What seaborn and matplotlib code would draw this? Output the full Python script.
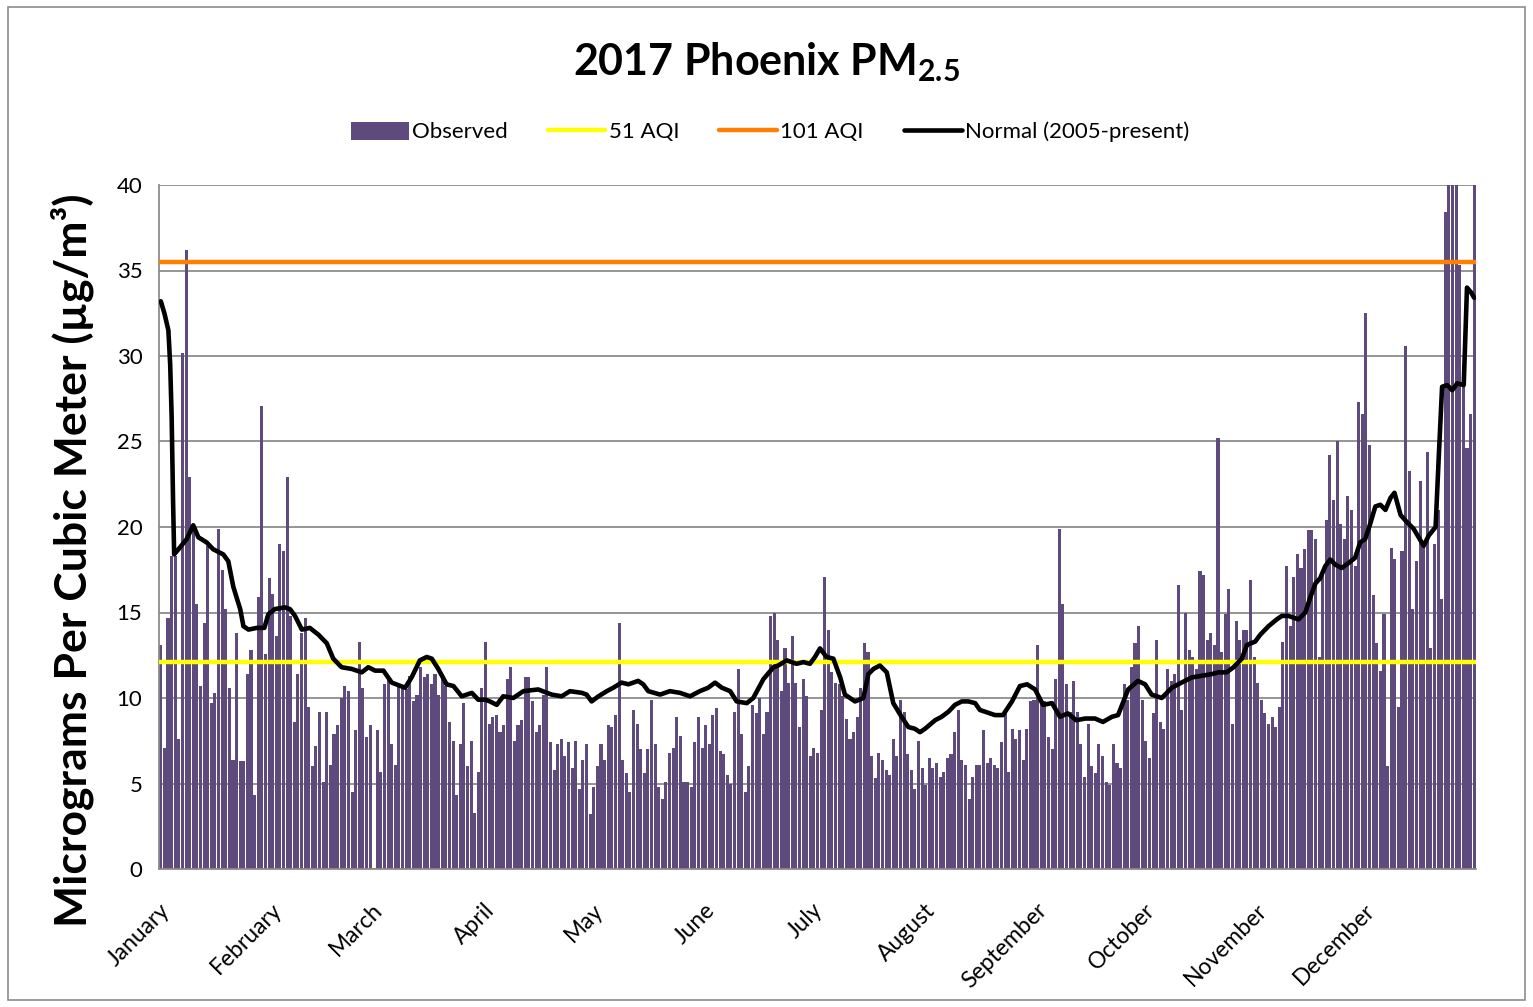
import matplotlib
matplotlib.use("Agg")
import numpy as np
import pandas as pd
import matplotlib.pyplot as plt
import seaborn as sns
from matplotlib.patches import Patch, Rectangle
from matplotlib.lines import Line2D

# Daily observed PM2.5 (ug/m3), one list per month
jan = [13.1, 7.1, 14.7, 18.3, 18.3, 7.6, 30.2, 36.2, 22.9, 19.8, 15.5, 10.7, 14.4, 18.9, 9.7, 10.3,
       19.9, 17.5, 15.2, 10.6, 6.4, 13.8, 6.3, 6.3, 11.4, 12.8, 4.3, 15.9, 27.1, 12.6, 17.0]
feb = [16.1, 13.6, 19.0, 18.6, 22.9, 14.8, 8.6, 11.4, 13.8, 14.7, 9.5, 6.0, 7.2, 9.2, 5.1, 9.2,
       6.1, 7.9, 8.4, 10.0, 10.7, 10.4, 4.5, 8.1, 13.3, 10.6, 7.7, 8.4]
mar = [0.0, 8.1, 5.7, 10.8, 11.1, 7.3, 6.1, 10.7, 10.7, 10.5, 11.3, 9.8, 10.2, 11.8, 11.2, 11.4,
       10.8, 11.4, 10.2, 11.4, 10.7, 8.6, 7.5, 4.3, 7.3, 9.7, 6.0, 7.5, 3.3, 5.7, 10.6]
apr = [13.3, 8.5, 8.9, 9.0, 8.0, 8.4, 11.1, 11.8, 7.5, 8.4, 8.7, 11.2, 11.2, 9.8, 8.0, 8.4,
       10.2, 11.8, 7.4, 5.8, 7.3, 7.6, 6.6, 7.4, 5.9, 7.5, 4.7, 6.4, 7.3, 3.2]
may = [4.8, 6.0, 7.3, 6.4, 8.4, 8.3, 9.0, 14.4, 6.4, 5.6, 4.5, 9.3, 8.5, 7.0, 5.6, 7.0,
       9.9, 7.3, 4.8, 4.1, 5.1, 6.8, 7.1, 8.9, 7.8, 5.1, 5.1, 4.8, 7.4, 8.9, 7.1]
jun = [8.4, 7.3, 9.0, 9.4, 6.9, 6.7, 5.5, 5.0, 9.2, 11.7, 7.9, 4.5, 6.0, 9.6, 9.1, 10.0,
       7.9, 9.2, 14.8, 15.0, 13.4, 10.4, 12.9, 10.9, 13.6, 10.9, 8.3, 11.1, 10.1, 6.6]
jul = [7.1, 6.8, 9.3, 17.1, 14.0, 11.5, 10.9, 10.8, 10.1, 8.8, 7.6, 8.0, 8.9, 10.6, 13.2, 12.7,
       6.6, 5.3, 6.8, 6.4, 5.8, 5.5, 7.6, 6.6, 9.9, 9.2, 6.7, 5.8, 4.7, 7.5, 5.9]
aug = [4.9, 6.5, 5.9, 6.2, 5.4, 5.7, 6.5, 6.7, 8.0, 9.3, 6.4, 6.1, 4.1, 5.4, 6.1, 6.1,
       8.1, 6.2, 6.5, 6.1, 5.9, 7.4, 9.3, 5.7, 8.2, 7.6, 8.1, 6.4, 8.2, 9.8, 9.9]
sep = [13.1, 9.9, 9.8, 7.7, 7.0, 11.1, 19.9, 15.5, 10.8, 9.2, 11.0, 9.2, 7.3, 5.4, 8.5, 6.0,
       5.6, 7.3, 6.6, 5.1, 4.9, 7.3, 6.2, 5.9, 10.8, 9.9, 11.8, 13.2, 14.2, 9.9]
oct_ = [7.5, 6.5, 9.1, 13.4, 8.6, 8.2, 11.7, 11.0, 11.4, 16.6, 9.3, 15.0, 12.8, 12.4, 11.7, 17.4,
        17.2, 13.4, 13.8, 13.1, 25.2, 12.7, 14.9, 16.4, 8.5, 14.5, 13.4, 14.0, 14.0, 16.9, 12.4]
nov = [10.9, 9.9, 9.1, 8.5, 8.9, 8.3, 9.5, 13.3, 17.7, 14.2, 17.1, 18.4, 17.6, 18.7, 19.8, 19.8,
       19.3, 12.4, 17.5, 20.4, 24.2, 21.6, 25.0, 20.2, 19.3, 21.8, 21.0, 17.7, 27.3, 26.6]
dec = [32.5, 24.8, 16.0, 13.2, 11.6, 14.9, 6.0, 18.8, 18.1, 9.5, 18.6, 30.6, 23.3, 15.2, 18.0, 22.7,
       19.0, 24.4, 12.9, 19.0, 21.0, 15.8, 38.4, 41.5, 43.0, 42.0, 35.3, 28.3, 24.6, 26.6, 44.0]

# Normal (2005-present) curve, vertices: day of year, value
normal_day = [1, 2, 3.1, 3.6, 4.0, 4.4, 4.7, 5.9, 8.2, 10.0, 11.4, 13.7, 15.5, 18.3, 19.7, 21.1,
              23.0, 23.9, 25.3, 27.6, 29.7, 30.8, 32.6, 35.4, 36.8, 38.2, 40.1, 42.3, 44.7, 47.0,
              48.8, 51.1, 53.9, 56.7, 58.5, 60.4, 62.7, 65.0, 68.7, 70.5, 72.8, 74.7, 76.1, 77.9,
              80.2, 82.1, 84.4, 85.8, 87.2, 89.0, 91.0, 92.2, 94.1, 95.9, 98.7, 101.5, 105.6,
              109.3, 112.1, 114.4, 117.7, 119.0, 120.4, 122.3, 124.6, 126.4, 128.7, 130.6, 133.3,
              134.7, 136.1, 139.4, 142.1, 144.9, 147.7, 150.4, 152.7, 154.6, 156.5, 158.8, 160.6,
              163.4, 165.2, 168.0, 170.8, 172.1, 174.5, 177.2, 179.1, 180.9, 182.3, 183.7, 185.5,
              187.4, 189.3, 190.6, 193.4, 195.7, 197.1, 198.5, 200.3, 202.2, 204.0, 206.3, 208.2,
              210.0, 211.4, 212.8, 215.6, 217.4, 219.3, 221.1, 223.0, 224.8, 226.7, 228.0, 229.4,
              232.2, 234.4, 236.9, 239.1, 241.1, 243.3, 245.5, 248.0, 250.2, 252.4, 254.7, 257.2,
              259.9, 262.1, 264.6, 266.3, 269.1, 271.8, 273.8, 275.6, 278.4, 281.2, 283.9, 286.7,
              289.5, 292.3, 294.1, 296.4, 298.3, 300.6, 302.0, 304.3, 305.7, 308.0, 310.3, 311.7,
              313.5, 314.9, 316.3, 318.2, 319.6, 321.0, 322.3, 323.7, 325.1, 326.5, 328.3, 330.2,
              332.0, 333.4, 334.8, 336.2, 337.6, 339.0, 340.4, 341.8, 342.9, 344.6, 346.3, 348.2,
              349.6, 351.0, 352.4, 354.3, 355.2, 356.1, 357.5, 358.9, 360.3, 362.1, 363.0, 364.2, 365.0]
normal_val = [33.2, 32.5, 31.5, 29.5, 26.5, 21.5, 18.4, 18.7, 19.3, 20.1, 19.4, 19.1, 18.7, 18.4, 18.0, 16.5,
              15.2, 14.2, 14.0, 14.1, 14.1, 14.9, 15.2, 15.3, 15.2, 14.8, 14.0, 14.1, 13.7, 13.2,
              12.3, 11.8, 11.7, 11.5, 11.8, 11.6, 11.6, 10.9, 10.6, 11.2, 12.2, 12.4, 12.3, 11.7,
              10.8, 10.7, 10.1, 10.2, 10.3, 9.9, 9.9, 9.8, 9.6, 10.1, 10.0, 10.4, 10.5,
              10.2, 10.1, 10.4, 10.3, 10.2, 9.8, 10.1, 10.4, 10.6, 10.9, 10.8, 11.0,
              10.8, 10.4, 10.2, 10.4, 10.3, 10.1, 10.4, 10.6, 10.9, 10.6, 10.4, 9.8,
              9.7, 10.0, 11.1, 11.8, 11.9, 12.2, 12.0, 12.1, 12.0, 12.4, 12.9, 12.4,
              12.3, 11.2, 10.2, 9.8, 10.0, 11.4, 11.7, 11.9, 11.5, 9.7, 8.9, 8.3,
              8.2, 8.0, 8.2, 8.7, 8.9, 9.2, 9.6, 9.8, 9.8, 9.7, 9.3, 9.2,
              9.0, 9.0, 9.8, 10.7, 10.8, 10.5, 9.6, 9.7, 8.9, 9.1, 8.7, 8.8,
              8.8, 8.6, 8.9, 9.0, 10.5, 11.0, 10.8, 10.2, 10.0, 10.6, 10.9, 11.2,
              11.3, 11.4, 11.5, 11.5, 11.8, 12.3, 13.1, 13.3, 13.7, 14.2, 14.6, 14.8,
              14.8, 14.7, 14.6, 15.0, 15.9, 16.7, 17.0, 17.7, 18.1, 17.8, 17.6, 17.9,
              18.2, 19.1, 19.3, 20.2, 21.2, 21.3, 21.0, 21.7, 22.0, 20.7, 20.3, 19.9,
              19.4, 18.9, 19.5, 20.0, 24.2, 28.2, 28.3, 28.0, 28.4, 28.3, 34.0, 33.7, 33.4]

aqi_51 = 12.1
aqi_101 = 35.5

months = ["January", "February", "March", "April", "May", "June", "July",
          "August", "September", "October", "November", "December"]
month_len = [31, 28, 31, 30, 31, 30, 31, 31, 30, 31, 30, 31]

BAR = "#5F4A7E"
GRID = "#8C8C8C"

observed = jan + feb + mar + apr + may + jun + jul + aug + sep + oct_ + nov + dec
df = pd.DataFrame({"day": np.arange(1, len(observed) + 1), "pm": observed})

sns.set_theme(style="white")
plt.rcParams["font.family"] = ["Lato", "DejaVu Sans"]
plt.rcParams["mathtext.fontset"] = "custom"
plt.rcParams["mathtext.rm"] = "Lato"
plt.rcParams["mathtext.bf"] = "Lato:bold"
for key in ["text.color", "axes.labelcolor", "xtick.color", "ytick.color"]:
    plt.rcParams[key] = "black"

fig = plt.figure(figsize=(15.33, 10.07), dpi=100)
ax = fig.add_axes([159 / 1533, 1 - 869 / 1007, (1476 - 159) / 1533, (869 - 185) / 1007])

sns.barplot(data=df, x="day", y="pm", native_scale=True, color=BAR, saturation=1,
            width=0.85, errorbar=None, linewidth=0, edgecolor="none", ax=ax, zorder=2)
ax.axhline(aqi_51, color="#FFFF00", lw=3.2, zorder=3)
ax.axhline(aqi_101, color="#FF7F00", lw=3.2, zorder=3)
sns.lineplot(x=normal_day, y=normal_val, color="black", lw=3.3, sort=False, ax=ax, zorder=4)

ax.set_xlim(0.5, 365.5)
ax.set_ylim(0, 40)
ax.set_yticks(np.arange(0, 41, 5))
ax.yaxis.grid(True, color=GRID, lw=1.3)
ax.set_axisbelow(True)

edges = np.concatenate([[0], np.cumsum(month_len)]) + 0.5
ax.set_xticks(edges)
ax.set_xticklabels(months + [""], rotation=45, ha="right", va="top", rotation_mode="anchor")
ax.tick_params(axis="x", direction="out", length=7, width=1.2, color=GRID, labelsize=16.5, pad=15)
ax.tick_params(axis="y", direction="out", length=6, width=1.2, color=GRID, labelsize=16, pad=6)
ax.set_xlabel("")
ax.set_ylabel("")

for s in ["top", "right"]:
    ax.spines[s].set_visible(False)
for s in ["left", "bottom"]:
    ax.spines[s].set_color(GRID)
    ax.spines[s].set_linewidth(1.3)

fig.text(766 / 1533, 1 - 62 / 1007, r"2017 Phoenix PM$_{\mathbf{2.5}}$", ha="center", va="center",
         fontsize=31, fontweight="bold")
fig.text(72 / 1533, 1 - 560 / 1007, "Micrograms Per Cubic Meter (µg/m³)", rotation=90,
         ha="center", va="center", fontsize=32, fontweight="bold")

handles = [Patch(facecolor=BAR, edgecolor="none"),
           Line2D([], [], color="#FFFF00", lw=3.2),
           Line2D([], [], color="#FF7F00", lw=3.2),
           Line2D([], [], color="black", lw=3.3)]
labels = ["Observed", "51 AQI", "101 AQI", "Normal (2005-present)"]
fig.legend(handles, labels, loc="center", bbox_to_anchor=(770 / 1533, 1 - 132 / 1007), ncol=4,
           frameon=False, fontsize=16, handlelength=2.6, handleheight=0.9, handletextpad=0.15,
           columnspacing=1.8)

fig.add_artist(Rectangle((8 / 1533, 7 / 1007), 1517 / 1533, 993 / 1007, transform=fig.transFigure,
                         fill=False, edgecolor="#8C8C8C", lw=1.2))

fig.savefig("out.png", dpi=100)
